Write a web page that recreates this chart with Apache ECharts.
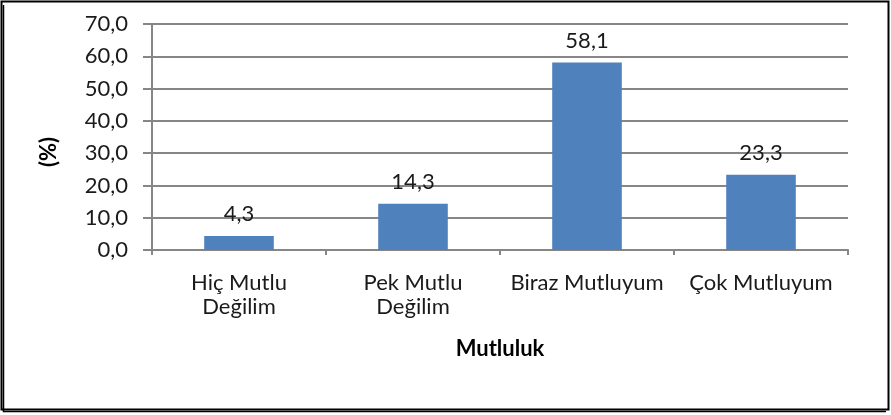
<!DOCTYPE html>
<html><head><meta charset="utf-8">
<script src="https://cdn.jsdelivr.net/npm/echarts@6/dist/echarts.min.js"></script>
<style>html,body{margin:0;padding:0;background:#fff}#c{width:891px;height:415px}</style>
</head><body><div id="c"></div>
<script>
const categories = ['Hiç Mutlu\nDeğilim', 'Pek Mutlu\nDeğilim', 'Biraz Mutluyum', 'Çok Mutluyum'];
const values = [4.3, 14.3, 58.1, 23.3];
const yMin = 0, yMax = 70, yStep = 10;
const FONT = 'Lato, "Open Sans", sans-serif';
const FS = 22;
const fmt = v => Number(v).toFixed(1).replace('.', ',');
const chart = echarts.init(document.getElementById('c'));
chart.setOption({
  animation: false,
  textStyle: { fontFamily: FONT },
  graphic: [
    { type: 'rect', shape: { x: 1.5, y: 1.5, width: 887, height: 408 }, style: { fill: 'none', stroke: '#000', lineWidth: 2 } },
    { type: 'polyline', shape: { points: [[3.5, 5], [3.5, 411.5], [886, 411.5]] }, style: { fill: 'none', stroke: '#000', lineWidth: 1.5 } },
    { type: 'text', x: 49, y: 152, rotation: Math.PI / 2,
      style: { text: '(%)', fontFamily: FONT, fontWeight: 'bold', fontSize: FS, fill: '#000', align: 'center', verticalAlign: 'middle' } }
  ],
  grid: { left: 152, right: 43, top: 24, bottom: 165, containLabel: false },
  xAxis: {
    type: 'category', data: categories,
    name: 'Mutluluk', nameLocation: 'middle', nameGap: 88,
    nameTextStyle: { fontFamily: FONT, fontWeight: 'bold', fontSize: FS, color: '#000' },
    axisLine: { lineStyle: { color: '#868686', width: 2 } },
    axisTick: { show: true, length: 5, lineStyle: { color: '#868686', width: 2 }, alignWithLabel: false },
    axisLabel: { interval: 0, color: '#1a1a1a', fontSize: FS, lineHeight: 24, margin: 21, fontFamily: FONT }
  },
  yAxis: {
    type: 'value', min: yMin, max: yMax, interval: yStep,
    axisLine: { show: true, lineStyle: { color: '#868686', width: 2 } },
    axisTick: { show: true, length: 9, lineStyle: { color: '#868686', width: 2 } },
    splitLine: { lineStyle: { color: '#868686', width: 2 } },
    axisLabel: { formatter: fmt, color: '#1a1a1a', fontSize: FS, margin: 24, fontFamily: FONT }
  },
  series: [{
    type: 'bar', data: values, barWidth: '40%',
    itemStyle: { color: '#4f81bd' },
    label: { show: true, position: 'top', distance: 11, formatter: p => fmt(p.value), color: '#1a1a1a', fontSize: FS, fontFamily: FONT }
  }]
});
</script></body></html>
